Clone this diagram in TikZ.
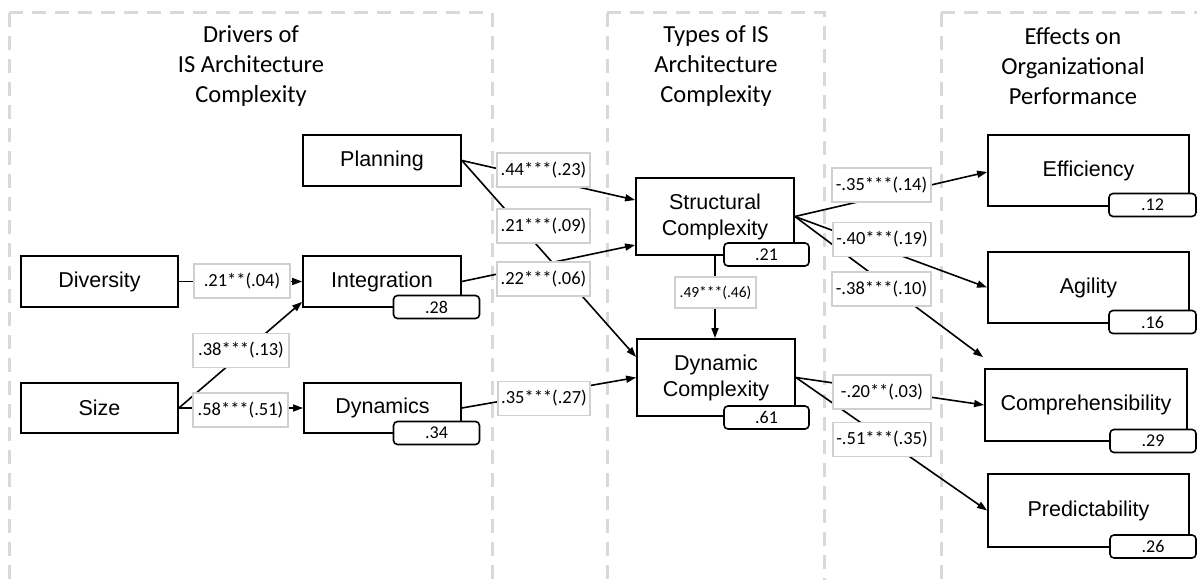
\documentclass[tikz,border=0pt]{standalone}
\usepackage{fontspec}
\setmainfont{Liberation Sans}
\newfontfamily\calfont{Carlito}
\usetikzlibrary{arrows.meta,calc}
\definecolor{panelgray}{HTML}{D9D9D9}
\definecolor{labelgray}{HTML}{D0D0D0}
\begin{document}
\begin{tikzpicture}[x=1pt,y=-1pt,
  var/.style={draw, line width=1.8pt, fill=white, inner sep=0pt, align=center,
    font=\fontsize{21.5}{26}\selectfont},
  coef/.style={draw=labelgray, line width=1.2pt, fill=white, inner sep=0pt,
    minimum height=34pt, font=\calfont\fontsize{18.5}{20}\selectfont},
  rsq/.style={draw, line width=1.6pt, rounded corners=4pt, fill=white,
    minimum width=86pt, minimum height=23pt, inner sep=0pt,
    font=\calfont\fontsize{18}{20}\selectfont},
  conn/.style={line width=1.6pt, -{Triangle[length=10pt,width=7pt]}},
  panel/.style={panelgray, line width=3pt, dash pattern=on 14pt off 9pt},
  ptitle/.style={align=center, font=\calfont\fontsize{24.5}{30}\selectfont}]
\useasboundingbox (0,0) rectangle (1197,580);
\fill[white] (0,0) rectangle (1197,580);
\begin{scope}
\clip (0,0) rectangle (1197,580);
\draw[panel] (9,13) -- (9,600);
\draw[panel] (9,13) -- (492,13) -- (492,600);
\draw[panel] (607,13) -- (607,600);
\draw[panel] (607,13) -- (824,13) -- (824,600);
\draw[panel] (941,13) -- (941,600);
\draw[panel] (941,13) -- (1220,13);
\end{scope}
% titles
\node[ptitle] (t1) at (251,66) {Drivers of\\IS Architecture\\Complexity};
\node[ptitle] (t2) at (716,66) {Types of IS\\Architecture\\Complexity};
\node[ptitle] (t3) at (1073,66) {Effects on\\Organizational\\Performance};
% variables
\node[var, minimum width=158pt, minimum height=51pt] (planning) at (382,160.5) {Planning};
\node[var, minimum width=157pt, minimum height=51pt] (diversity) at (99.5,281.5) {Diversity};
\node[var, minimum width=158pt, minimum height=51pt] (integration) at (382,281.5) {Integration};
\node[var, minimum width=157pt, minimum height=50pt] (size) at (99.5,408) {Size};
\node[var, minimum width=157pt, minimum height=50pt] (dynamics) at (382.5,408) {Dynamics};
\node[var, minimum width=158pt, minimum height=77pt] (structural) at (715,216.5) {Structural\\Complexity};
\node[var, minimum width=158pt, minimum height=77pt] (dynamic) at (716,377.5) {Dynamic\\Complexity};
\node[var, minimum width=201pt, minimum height=71pt] (efficiency) at (1088.5,170.5) {Efficiency};
\node[var, minimum width=201pt, minimum height=71pt] (agility) at (1088.5,287.5) {Agility};
\node[var, minimum width=202pt, minimum height=72pt] (compre) at (1086,405) {Comprehensibility};
\node[var, minimum width=201pt, minimum height=73pt] (predict) at (1088.5,510.5) {Predictability};
% connectors
\draw[conn] (diversity.east) -- (integration.west);
\draw[conn] (size.east) -- ($(integration.south west)+(0,-6)$);
\draw[conn] (size.east) -- (dynamics.west);
\draw[conn] (planning.east) -- ($(structural.west)+(0,-16.5)$);
\draw[conn] (planning.east) -- ($(dynamic.west)+(0,-20.5)$);
\draw[conn] (integration.east) -- ($(structural.west)+(0,28.5)$);
\draw[conn] (dynamics.east) -- (dynamic.west);
\draw[conn] (structural.south) -- (structural.south |- dynamic.north);
\draw[conn] (structural.east) -- ($(efficiency.west)+(0,1.5)$);
\draw[conn] (structural.east) -- (agility.west);
\coordinate (c38end) at ($(compre.north west)+(-1,-11)$);
\draw[conn] (structural.east) -- (c38end);
\draw[conn] (dynamic.east) -- (compre.west);
\draw[conn] (dynamic.east) -- (predict.west);
% coefficient labels
\node[coef, minimum width=96pt] (k1) at (242,281) {.21**(.04)};
\node[coef, minimum width=96pt] (k2) at (241,350.5) {.38***(.13)};
\node[coef, minimum width=95pt] (k3) at (240.5,410) {.58***(.51)};
\node[coef, minimum width=93pt] (k4) at (543.5,170) {.44***(.23)};
\node[coef, minimum width=93pt] (k5) at (543.5,226) {.21***(.09)};
\node[coef, minimum width=93pt] (k6) at (543.5,279) {.22***(.06)};
\node[coef, minimum width=92pt] (k7) at (544,398.5) {.35***(.27)};
\node[coef, minimum width=81pt, minimum height=31pt, font=\calfont\fontsize{15.5}{18}\selectfont] (k8) at (715.5,292.5) {.49***(.46)};
\node[coef, minimum width=99pt] (k9) at (881.5,185) {-.35***(.14)};
\node[coef, minimum width=98pt] (k10) at (882,239.5) {-.40***(.19)};
\node[coef, minimum width=99pt] (k11) at (881.5,289) {-.38***(.10)};
\node[coef, minimum width=98pt] (k12) at (882,392) {-.20**(.03)};
\node[coef, minimum width=98pt] (k13) at (882,439.5) {-.51***(.35)};
% R squared boxes
\node[rsq] (r28) at (436.5,307) {.28};
\node[rsq] (r34) at (436.5,433) {.34};
\node[rsq, minimum width=85pt] (r21) at (766.5,254.5) {.21};
\node[rsq, minimum width=85pt] (r61) at (766.5,417.5) {.61};
\node[rsq, minimum width=87pt] (r12) at (1152.5,205) {.12};
\node[rsq, minimum width=87pt] (r16) at (1152.5,322) {.16};
\node[rsq, minimum width=86pt] (r29) at (1153,441) {.29};
\node[rsq, minimum width=86pt] (r26) at (1153,546.5) {.26};
\end{tikzpicture}
\end{document}
